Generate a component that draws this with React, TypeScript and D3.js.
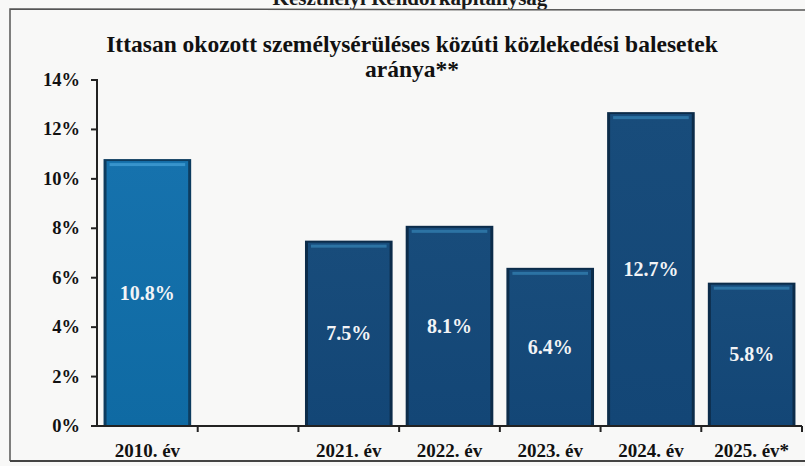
import React from "react";
import * as d3 from "d3";

const categories = ["2010. év", "gap", "2021. év", "2022. év", "2023. év", "2024. év", "2025. év*"];
const values: (number | null)[] = [10.8, null, 7.5, 8.1, 6.4, 12.7, 5.8];
const valueLabels = ["10.8%", "", "7.5%", "8.1%", "6.4%", "12.7%", "5.8%"];
const yTicks = [0, 2, 4, 6, 8, 10, 12, 14];
const titleLines = ["Ittasan okozott személysérüléses közúti közlekedési balesetek", "aránya**"];
const headerText = "Keszthelyi Rendőrkapitányság";

const W = 805;
const H = 466;
const FONT = "'Liberation Serif', 'Times New Roman', serif";

export default function App() {
  const x = d3.scaleBand<string>().domain(categories).range([97, 802]).paddingInner(0.13).paddingOuter(0.065);
  const y = d3.scaleLinear().domain([0, 14]).range([426, 80]);
  const step = x.step();
  const bw = x.bandwidth();

  return (
    <svg width={W} height={H} style={{ position: "absolute", left: 0, top: 0, background: "#f8f8f7" }}>
      <defs>
        <linearGradient id="gLight" x1="0" x2="0" y1="0" y2="1">
          <stop offset="0" stopColor="#1672ad" />
          <stop offset="1" stopColor="#0f6aa3" />
        </linearGradient>
        <linearGradient id="gDark" x1="0" x2="0" y1="0" y2="1">
          <stop offset="0" stopColor="#184c7b" />
          <stop offset="1" stopColor="#134676" />
        </linearGradient>
      </defs>
      <rect x={0} y={0} width={W} height={H} fill="#f8f8f7" />
      {/* cut-off header */}
      <text x={410} y={5} textAnchor="middle" fontFamily={FONT} fontWeight="bold" fontSize={21} fill="#1a1a1a">
        {headerText}
      </text>
      {/* frame */}
      <path d={`M10,${H - 5} L10,9 L${W},10`} fill="none" stroke="#555" strokeWidth={1.5} />
      <line x1={10} x2={W} y1={H - 5} y2={H - 5} stroke="#444" strokeWidth={2} />
      {/* title */}
      {titleLines.map((t, i) => (
        <text key={i} x={412} y={52 + i * 25} textAnchor="middle" fontFamily={FONT} fontWeight="bold" fontSize={23.5} fill="#111">
          {t}
        </text>
      ))}
      {/* bars */}
      {categories.map((c, i) => {
        const v = values[i];
        if (v == null) return null;
        const x0 = x(c)!;
        const y0 = y(v);
        const h = y(0) - y0;
        const light = i === 0;
        return (
          <g key={c}>
            <rect x={x0} y={y0} width={bw} height={h} fill={light ? "#0d3c5f" : "#0c2c4a"} />
            <rect x={x0 + 3} y={y0 + 2} width={bw - 6} height={h - 2} fill={light ? "url(#gLight)" : "url(#gDark)"} />
            <rect x={x0 + 6} y={y0 + 4} width={bw - 12} height={3} fill={light ? "#3c98cf" : "#2f78a8"} opacity={0.9} />
            <text
              x={x0 + bw / 2}
              y={(y0 + y(0)) / 2 + 7}
              textAnchor="middle"
              fontFamily={FONT}
              fontWeight="bold"
              fontSize={20}
              fill="#f2f4f6"
            >
              {valueLabels[i]}
            </text>
          </g>
        );
      })}
      {/* y axis */}
      <line x1={97} x2={97} y1={y(14) - 1} y2={y(0)} stroke="#222" strokeWidth={2} />
      {yTicks.map((t) => (
        <g key={t}>
          <line x1={91} x2={97} y1={y(t)} y2={y(t)} stroke="#222" strokeWidth={2} />
          <text x={80} y={y(t) + 6} textAnchor="end" fontFamily={FONT} fontWeight="bold" fontSize={18.5} fill="#111">
            {t}%
          </text>
        </g>
      ))}
      {/* x axis */}
      <line x1={97} x2={802} y1={y(0)} y2={y(0)} stroke="#222" strokeWidth={2} />
      {categories.map((c, i) => (
        <line key={"t" + i} x1={97 + (i + 1) * step} x2={97 + (i + 1) * step} y1={y(0)} y2={y(0) + 6} stroke="#222" strokeWidth={2} />
      ))}
      {categories.map((c, i) =>
        values[i] == null ? null : (
          <text key={"l" + c} x={x(c)! + bw / 2} y={457} textAnchor="middle" fontFamily={FONT} fontWeight="bold" fontSize={19} fill="#111">
            {c}
          </text>
        )
      )}
    </svg>
  );
}
